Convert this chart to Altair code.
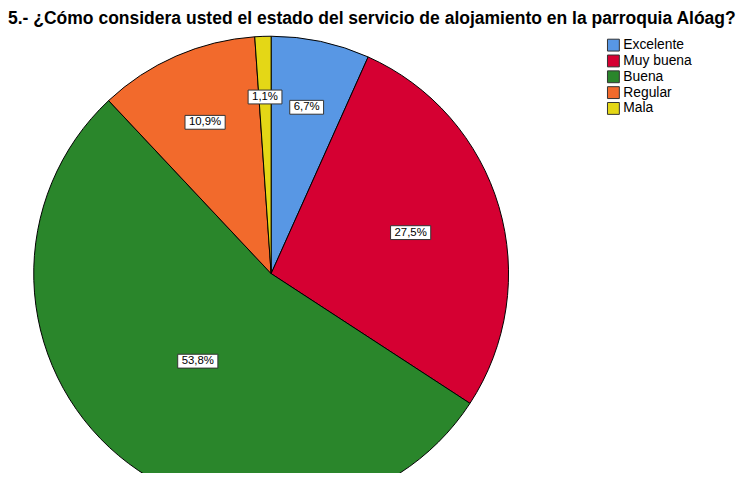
import altair as alt
import pandas as pd

titulo = "5.- ¿Cómo considera usted el estado del servicio de alojamiento en la parroquia Alóag?"
categorias = ["Excelente", "Muy buena", "Buena", "Regular", "Mala"]
porcentajes = [6.7, 27.5, 53.8, 10.9, 1.1]
colores = ["#5897E4", "#D50032", "#2A862B", "#F26A2C", "#E4D716"]

df = pd.DataFrame({
    "categoria": categorias,
    "porcentaje": porcentajes,
    "orden": list(range(len(categorias))),
})

CX, CY, R = 266, 238, 240

arcs = alt.Chart(df).mark_arc(outerRadius=R, stroke="black", strokeWidth=1).encode(
    theta=alt.Theta("porcentaje:Q", stack=True),
    color=alt.Color(
        "categoria:N",
        scale=alt.Scale(domain=categorias, range=colores),
        legend=alt.Legend(
            title=None, orient="none", legendX=605, legendY=0,
            symbolType="square", symbolSize=144, symbolStrokeColor="#333333",
            symbolStrokeWidth=1, symbolOpacity=1,
            labelFont="Liberation Sans", labelFontSize=14, labelColor="black",
            rowPadding=0, padding=0, labelOffset=3,
        ),
    ),
    order=alt.Order("orden:Q"),
    x=alt.value(CX),
    y=alt.value(CY),
)

lab = alt.Chart(df).transform_window(
    cum="sum(porcentaje)", sort=[alt.SortField("orden")], frame=[None, 0]
).transform_calculate(
    mid="(datum.cum - datum.porcentaje/2)/100*2*PI",
    rl=f"(0.75 - 0.005*datum.porcentaje)*{R}",
    lx=f"{CX} + datum.rl*sin(datum.mid)",
    ly=f"{CY} - datum.rl*cos(datum.mid)",
    label="replace(format(datum.porcentaje, '.1f'), '.', ',') + '%'",
    bw="(length(datum.label)-2)*6.4 + 3.2 + 10.2 + 8",
    x0="datum.lx - datum.bw/2",
    x1="datum.lx + datum.bw/2",
    y0="datum.ly - 7",
    y1="datum.ly + 7",
)

boxes = lab.mark_rect(fill="white", stroke="#333333", strokeWidth=1).encode(
    x=alt.X("x0:Q", scale=None, axis=None),
    x2="x1:Q",
    y=alt.Y("y0:Q", scale=None, axis=None),
    y2="y1:Q",
)

texts = lab.mark_text(font="Liberation Sans", fontSize=11.5, color="black").encode(
    x=alt.X("lx:Q", scale=None, axis=None),
    y=alt.Y("ly:Q", scale=None, axis=None),
    text="label:N",
)

chart = alt.layer(arcs, boxes, texts).properties(
    width=743,
    height=437,
    title=alt.TitleParams(
        text=titulo, anchor="start", font="Liberation Sans", fontSize=17.7,
        fontWeight="bold", color="black", offset=7,
    ),
    autosize=alt.AutoSizeParams(type="none"),
    padding={"left": 0, "top": 28, "right": 0, "bottom": 0},
).configure_view(stroke=None)

chart.save("out.html", embed_options={"renderer": "svg", "actions": False})
